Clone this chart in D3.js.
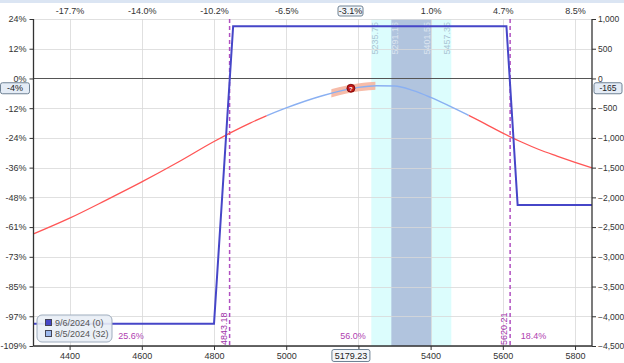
<!DOCTYPE html>
<html><head><meta charset="utf-8">
<script src="https://cdn.jsdelivr.net/npm/d3@7"></script>
<style>
html,body{margin:0;padding:0;background:#fff;}
svg{display:block;font-family:"Liberation Sans",Arial,sans-serif;}
</style></head>
<body><svg id="c" width="624" height="363"></svg>
<script>
// ---- data ----
const xTicks = [4400, 4600, 4800, 5000, 5200, 5400, 5600, 5800];
const bottomTickLabels = ["4400", "4600", "4800", "5000", "", "5400", "5600", "5800"];
const topTickLabels = ["-17.7%", "-14.0%", "-10.2%", "-6.5%", "", "1.0%", "4.7%", "8.5%"];
const yTicks = [1000, 500, 0, -500, -1000, -1500, -2000, -2500, -3000, -3500, -4000, -4500];
const yPctLabels = ["24%", "12%", "0%", "-12%", "-24%", "-36%", "-48%", "-61%", "-73%", "-85%", "-97%", "-109%"];
const expPrice = [4300, 4800, 4853, 5610, 5641, 5847];
const expPnl = [-4125, -4125, 880, 880, -2130, -2130];
const t0Price = [4300, 4400, 4500, 4600, 4700, 4800, 4900, 5000, 5100, 5200, 5250, 5300, 5350, 5400, 5450, 5500, 5550, 5600, 5650, 5700, 5750, 5800, 5847];
const t0Pnl = [-2615, -2350, -2050, -1740, -1410, -1060, -750, -495, -290, -150, -122, -128, -200, -318, -457, -605, -760, -920, -1065, -1195, -1305, -1410, -1505];
const sdRange = [4946, 5505];
const highlightRange = [5125, 5247];
const outerBand = [5235.75, 5457.35];
const innerBand = [5291.16, 5401.55];
const breakevens = [4843.18, 5620.21];
const probLabels = ["25.6%", "56.0%", "18.4%"];
const probPrices = [4570, 5185, 5685];
const currentPrice = 5179.23;
const currentPnl = -165;
const currentPct = "-3.1%";
const currentPnlPct = "-4%";
const legendLabels = ["9/6/2024 (0)", "8/5/2024 (32)"];

// ---- layout ----
const L = 33.5, R = 592, T = 19, B = 346;
const svg = d3.select("#c");
const x = d3.scaleLinear().domain([4300, 5847]).range([L, R]);
const y = d3.scaleLinear().domain([-4500, 1000]).range([B, T]);
const fs = 9;

svg.append("rect").attr("x", 0).attr("y", 0).attr("width", 624).attr("height", 3).attr("fill", "#dbe5f3");

// bands
svg.append("rect").attr("x", x(outerBand[0])).attr("y", T).attr("width", x(outerBand[1]) - x(outerBand[0])).attr("height", B - T).attr("fill", "#dcfdfd");
svg.append("rect").attr("x", x(innerBand[0])).attr("y", T).attr("width", x(innerBand[1]) - x(innerBand[0])).attr("height", B - T).attr("fill", "#b1c4de");

// gridlines
const grid = svg.append("g");
grid.selectAll("line.v").data(xTicks).join("line")
  .attr("x1", d => Math.round(x(d)) + 0.5).attr("x2", d => Math.round(x(d)) + 0.5)
  .attr("y1", T).attr("y2", B).attr("stroke", "#d8d8d8").attr("stroke-opacity", 0.8);
grid.selectAll("line.h").data(yTicks.filter(d => d !== 0)).join("line")
  .attr("x1", L).attr("x2", R).attr("y1", d => Math.round(y(d)) + 0.5).attr("y2", d => Math.round(y(d)) + 0.5)
  .attr("stroke", "#d8d8d8").attr("stroke-opacity", 0.8);
svg.append("line").attr("x1", L).attr("x2", R).attr("y1", Math.round(y(0)) + 0.5).attr("y2", Math.round(y(0)) + 0.5)
  .attr("stroke", "#555").attr("stroke-width", 1);

// band labels
const bandLbl = [
  {v: outerBand[0], dx: 4, c: "#a9c3d3"},
  {v: innerBand[0], dx: 4, c: "#dce4f0"},
  {v: innerBand[1], dx: -4, c: "#dce4f0"},
  {v: outerBand[1], dx: -4, c: "#a9c3d3"}
];
svg.selectAll("text.band").data(bandLbl).join("text")
  .attr("transform", d => `translate(${x(d.v) + d.dx},${T + 3}) rotate(-90)`)
  .attr("text-anchor", "end").attr("dy", "0.35em").attr("font-size", fs)
  .attr("fill", d => d.c).text(d => d.v.toFixed(2));

// breakeven lines
svg.selectAll("line.be").data(breakevens).join("line")
  .attr("x1", d => x(d)).attr("x2", d => x(d)).attr("y1", T).attr("y2", B)
  .attr("stroke", "#b050c0").attr("stroke-width", 1.5).attr("stroke-dasharray", "4,3");
svg.selectAll("text.be").data(breakevens).join("text")
  .attr("transform", d => `translate(${x(d) - 3},${B - 1}) rotate(-90)`)
  .attr("text-anchor", "start").attr("font-size", fs).attr("fill", "#a030a8").text(d => d.toFixed(2));

// probability labels
svg.selectAll("text.prob").data(probLabels).join("text")
  .attr("x", (d, i) => x(probPrices[i])).attr("y", 339).attr("text-anchor", "middle")
  .attr("font-size", fs).attr("fill", "#b040b0").text(d => d);

// T+0 curve
const t0 = t0Price.map((p, i) => [p, t0Pnl[i]]);
const line = d3.line().x(d => x(d[0])).y(d => y(d[1])).curve(d3.curveMonotoneX);
const defs = svg.append("defs");
defs.append("clipPath").attr("id", "cin").append("rect")
  .attr("x", x(sdRange[0])).attr("y", 0).attr("width", x(sdRange[1]) - x(sdRange[0])).attr("height", 363);
const cout = defs.append("clipPath").attr("id", "cout");
cout.append("rect").attr("x", 0).attr("y", 0).attr("width", x(sdRange[0])).attr("height", 363);
cout.append("rect").attr("x", x(sdRange[1])).attr("y", 0).attr("width", 624 - x(sdRange[1])).attr("height", 363);
defs.append("clipPath").attr("id", "chl").append("rect")
  .attr("x", x(highlightRange[0])).attr("y", 0).attr("width", x(highlightRange[1]) - x(highlightRange[0])).attr("height", 363);
defs.append("clipPath").attr("id", "cplot").append("rect")
  .attr("x", L).attr("y", T).attr("width", R - L).attr("height", B - T);

svg.append("path").datum(t0).attr("d", line).attr("fill", "none")
  .attr("stroke", "#f6b09a").attr("stroke-width", 8).attr("stroke-opacity", 0.85).attr("clip-path", "url(#chl)");
svg.append("path").datum(t0).attr("d", line).attr("fill", "none")
  .attr("stroke", "#ff5555").attr("stroke-width", 1.3).attr("clip-path", "url(#cout)");
svg.append("path").datum(t0).attr("d", line).attr("fill", "none")
  .attr("stroke", "#8ab0f2").attr("stroke-width", 1.5).attr("clip-path", "url(#cin)");

// expiration line
const exp = expPrice.map((p, i) => [p, expPnl[i]]);
svg.append("path").datum(exp).attr("d", d3.line().x(d => x(d[0])).y(d => y(d[1])))
  .attr("fill", "none").attr("stroke", "#4646c8").attr("stroke-width", 2).attr("clip-path", "url(#cplot)");

// current dot
svg.append("circle").attr("cx", x(currentPrice)).attr("cy", y(currentPnl)).attr("r", 4)
  .attr("fill", "#c01818").attr("stroke", "#700000").attr("stroke-width", 0.8);
svg.append("text").attr("x", x(currentPrice)).attr("y", y(currentPnl) + 2.3).attr("text-anchor", "middle")
  .attr("font-size", 6).attr("font-weight", "bold").attr("fill", "#fff").text("?");

// axes
const axCol = "#333";
const gL = svg.append("g").attr("transform", `translate(${L},0)`)
  .call(d3.axisLeft(y).tickValues(yTicks).tickSize(4).tickFormat((d, i) => yPctLabels[i]));
const gR = svg.append("g").attr("transform", `translate(${R},0)`)
  .call(d3.axisRight(y).tickValues(yTicks).tickSize(4).tickPadding(2).tickFormat(d3.format(",")));
const gB = svg.append("g").attr("transform", `translate(0,${B})`)
  .call(d3.axisBottom(x).tickValues(xTicks).tickSize(4).tickFormat((d, i) => bottomTickLabels[i]));
const gT = svg.append("g").attr("transform", `translate(0,${T})`)
  .call(d3.axisTop(x).tickValues(xTicks).tickSize(0).tickPadding(5).tickFormat((d, i) => topTickLabels[i]));
gT.select(".domain").remove();
[gL, gR, gB, gT].forEach(g => {
  g.selectAll("text").attr("font-size", fs).attr("fill", axCol).attr("font-family", "Liberation Sans, Arial, sans-serif");
  g.selectAll("line").attr("stroke", axCol);
  g.select(".domain").attr("stroke", axCol).attr("stroke-width", 1.3);
});
gR.selectAll("text").attr("font-size", 8.5);
gL.select(".domain").attr("d", `M0,${T}V${B}`);
gR.select(".domain").attr("d", `M0,${T}V${B}`);
gB.select(".domain").attr("d", `M${L},0H${R}`);

// value boxes
function box(cx, cy, w, h, txt, fill, f) {
  svg.append("rect").attr("x", cx - w / 2).attr("y", cy - h / 2).attr("width", w).attr("height", h)
    .attr("rx", 2).attr("fill", fill).attr("stroke", "#6f8294").attr("stroke-width", 1);
  svg.append("text").attr("x", cx).attr("y", cy).attr("dy", "0.35em").attr("text-anchor", "middle")
    .attr("font-size", f || fs).attr("fill", "#222").text(txt);
}
box(x(currentPrice), 355.5, 38, 12, currentPrice.toFixed(2), "#f4f6f9");
box(350.5, 11, 25, 10, currentPct, "#f0f4f8");
box(15, y(currentPnl), 29, 11, currentPnlPct, "#e4ecf6");
box(608, y(currentPnl), 28, 11, String(currentPnl), "#e4ecf6", 8.5);

// legend
const lg = svg.append("g").attr("transform", "translate(37,315)");
lg.append("rect").attr("width", 75).attr("height", 27).attr("rx", 5)
  .attr("fill", "#e9eef6").attr("fill-opacity", 0.9).attr("stroke", "#9eacbd");
const legCols = ["#4646c8", "#9db9ee"];
legendLabels.forEach((t, i) => {
  lg.append("rect").attr("x", 8.5).attr("y", 4.5 + i * 11).attr("width", 6).attr("height", 6)
    .attr("fill", legCols[i]).attr("stroke", "#445");
  lg.append("text").attr("x", 18).attr("y", 11 + i * 11).attr("font-size", fs).attr("fill", "#555").text(t);
});
</script></body></html>
